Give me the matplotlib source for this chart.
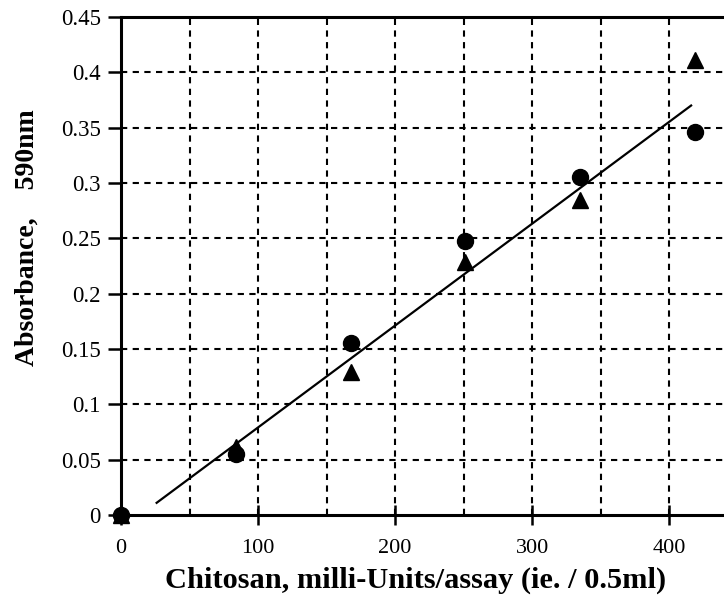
import matplotlib
matplotlib.use("Agg")
import matplotlib.pyplot as plt
import numpy as np

x_vals = [0, 84, 168, 251, 335, 419]
circles = [0.0, 0.055, 0.155, 0.248, 0.305, 0.346]
triangles = [0.0, 0.061, 0.129, 0.229, 0.285, 0.411]
fit_x = [26, 416]
fit_y = [0.011, 0.370]
xticks = [0, 100, 200, 300, 400]
yticks = [0, 0.05, 0.1, 0.15, 0.2, 0.25, 0.3, 0.35, 0.4, 0.45]
ytick_labels = ["0", "0.05", "0.1", "0.15", "0.2", "0.25", "0.3", "0.35", "0.4", "0.45"]

plt.rcParams['font.family'] = ['Liberation Serif', 'DejaVu Serif']

fig = plt.figure(figsize=(7.24, 6), dpi=100)
ax = fig.add_axes([121/724, 85/600, (724-121)/724, 498/600])
ax.set_xlim(0, 440)
ax.set_ylim(0, 0.45)

dash = (0, (3, 2.6))
for gx in range(50, 450, 50):
    ax.axvline(gx, color='black', lw=1.5, ls=dash, zorder=1)
for gy in yticks[1:]:
    ax.axhline(gy, color='black', lw=1.5, ls=dash, zorder=1)

ax.plot(fit_x, fit_y, color='black', lw=1.6, zorder=2)
ax.plot(x_vals, circles, 'o', color='black', ms=11.5, zorder=3, clip_on=False)
ax.plot(x_vals, triangles, '^', color='black', ms=11.5, zorder=3, clip_on=False)

ax.spines['right'].set_visible(False)
for s in ['top', 'left', 'bottom']:
    ax.spines[s].set_linewidth(2.2)

ax.set_xticks(xticks)
ax.set_yticks(yticks)
ax.set_yticklabels(ytick_labels)
ax.tick_params(axis='x', direction='inout', length=15, width=1.8, labelsize=16, pad=10)
ax.tick_params(axis='y', direction='out', length=9.5, width=1.8, labelsize=16.5, pad=5)

fig.text(416/724, 12/600, "Chitosan, milli-Units/assay (ie. / 0.5ml)", fontsize=21.9,
         fontweight='bold', ha='center', va='baseline')
fig.text(27/724, (600-238)/600, "Absorbance,    590nm", fontsize=20, fontweight='bold',
         rotation=90, ha='center', va='center')

fig.savefig("out.png", dpi=100)
